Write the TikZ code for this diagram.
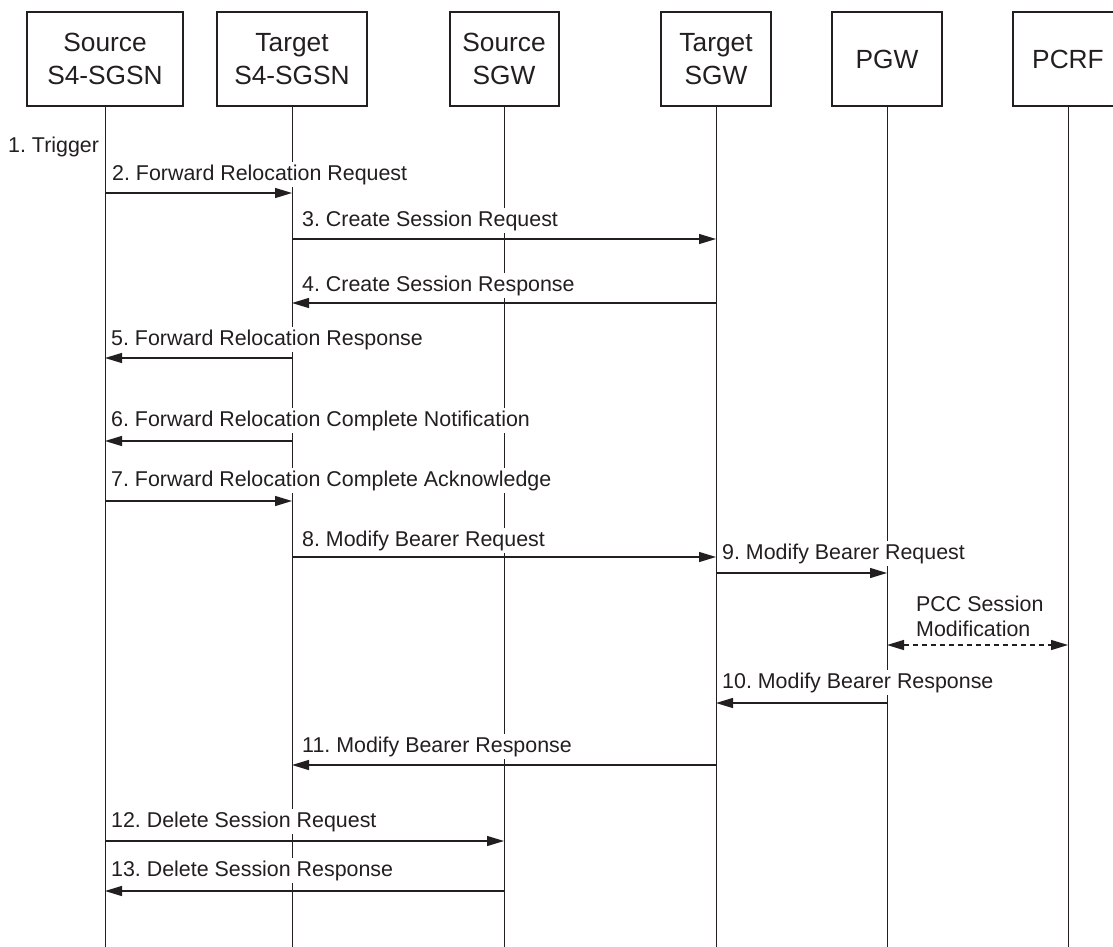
\documentclass[tikz,border=0pt]{standalone}
\usepackage{fontspec}
\setmainfont{Liberation Sans}
\usetikzlibrary{arrows.meta,calc}
\definecolor{ink}{HTML}{231F20}
\frenchspacing
\begin{document}
\begin{tikzpicture}[x=1pt,y=-1pt,
  entity/.style={draw=ink,line width=2pt,fill=white,minimum height=94pt,
    align=center,inner sep=0pt,text=ink,font=\fontsize{26.3}{33}\selectfont},
  life/.style={draw=ink,line width=1pt},
  tip/.tip={Triangle[length=17pt,width=10pt]},
  msg/.style={draw=ink,line width=1.3pt,-tip},
  both/.style={draw=ink,line width=1.3pt,dash pattern=on 5pt off 4pt,tip-tip},
  lbl/.style={anchor=base west,fill=white,inner xsep=1pt,inner ysep=2.5pt,
    text=ink,font=\fontsize{21.4}{25}\selectfont}]
\clip (0,0) rectangle (1113,947);
\fill[white] (0,0) rectangle (1113,947);

% participants
\node[entity,minimum width=156pt] (ssg)  at (105,59)  {Source\\S4-SGSN};
\node[entity,minimum width=150pt] (tsg)  at (292,59)  {Target\\S4-SGSN};
\node[entity,minimum width=109pt] (ssw)  at (504,59)  {Source\\SGW};
\node[entity,minimum width=110pt] (tsw)  at (716,59)  {Target\\SGW};
\node[entity,minimum width=110pt] (pgw)  at (887,59)  {PGW};
\node[entity,minimum width=110pt] (pcrf) at (1068,59) {PCRF};

% lifelines
\foreach \n in {ssg,tsg,ssw,tsw,pgw,pcrf}{
  \coordinate (\n-end) at (\n |- 0,947);
  \draw[life] (\n.south) -- (\n-end);
}

% message labels
\node[lbl] (l1) at (7,153) {1. Trigger};
\node[lbl] (l2)  at ($(ssg |- 0,180)+(6,0)$)  {2. Forward Relocation Request};
\node[lbl] (l3)  at ($(tsg |- 0,226)+(9,0)$)  {3. Create Session Request};
\node[lbl] (l4)  at ($(tsg |- 0,291)+(9,0)$)  {4. Create Session Response};
\node[lbl] (l5)  at ($(ssg |- 0,345)+(5,0)$)  {5. Forward Relocation Response};
\node[lbl] (l6)  at ($(ssg |- 0,426)+(5,0)$)  {6. Forward Relocation Complete Notification};
\node[lbl] (l7)  at ($(ssg |- 0,486)+(5,0)$)  {7. Forward Relocation Complete Acknowledge};
\node[lbl] (l8)  at ($(tsg |- 0,546)+(9,0)$)  {8. Modify Bearer Request};
\node[lbl] (l9)  at ($(tsw |- 0,559)+(5,0)$)  {9. Modify Bearer Request};
\node[lbl,align=left] (lpcc) at ($(pgw |- 0,636)+(28,0)$) {PCC Session\\Modification};
\node[lbl] (l10) at ($(tsw |- 0,688)+(5,0)$)  {10. Modify Bearer Response};
\node[lbl] (l11) at ($(tsg |- 0,752)+(9,0)$)  {11. Modify Bearer Response};
\node[lbl] (l12) at ($(ssg |- 0,827)+(5,0)$)  {12. Delete Session Request};
\node[lbl] (l13) at ($(ssg |- 0,876)+(5,0)$)  {13. Delete Session Response};

% messages
\draw[msg] (ssg |- 0,193) -- (tsg |- 0,193);
\draw[msg] (tsg |- 0,239) -- (tsw |- 0,239);
\draw[msg] (tsw |- 0,303) -- (tsg |- 0,303);
\draw[msg] (tsg |- 0,358) -- (ssg |- 0,358);
\draw[msg] (tsg |- 0,441) -- (ssg |- 0,441);
\draw[msg] (ssg |- 0,501) -- (tsg |- 0,501);
\draw[msg] (tsg |- 0,557) -- (tsw |- 0,557);
\draw[msg] (tsw |- 0,573) -- (pgw |- 0,573);
\draw[both] (pgw |- 0,645) -- (pcrf |- 0,645);
\draw[msg] (pgw |- 0,703) -- (tsw |- 0,703);
\draw[msg] (tsw |- 0,765) -- (tsg |- 0,765);
\draw[msg] (ssg |- 0,841) -- (ssw |- 0,841);
\draw[msg] (ssw |- 0,891) -- (ssg |- 0,891);
\end{tikzpicture}
\end{document}
